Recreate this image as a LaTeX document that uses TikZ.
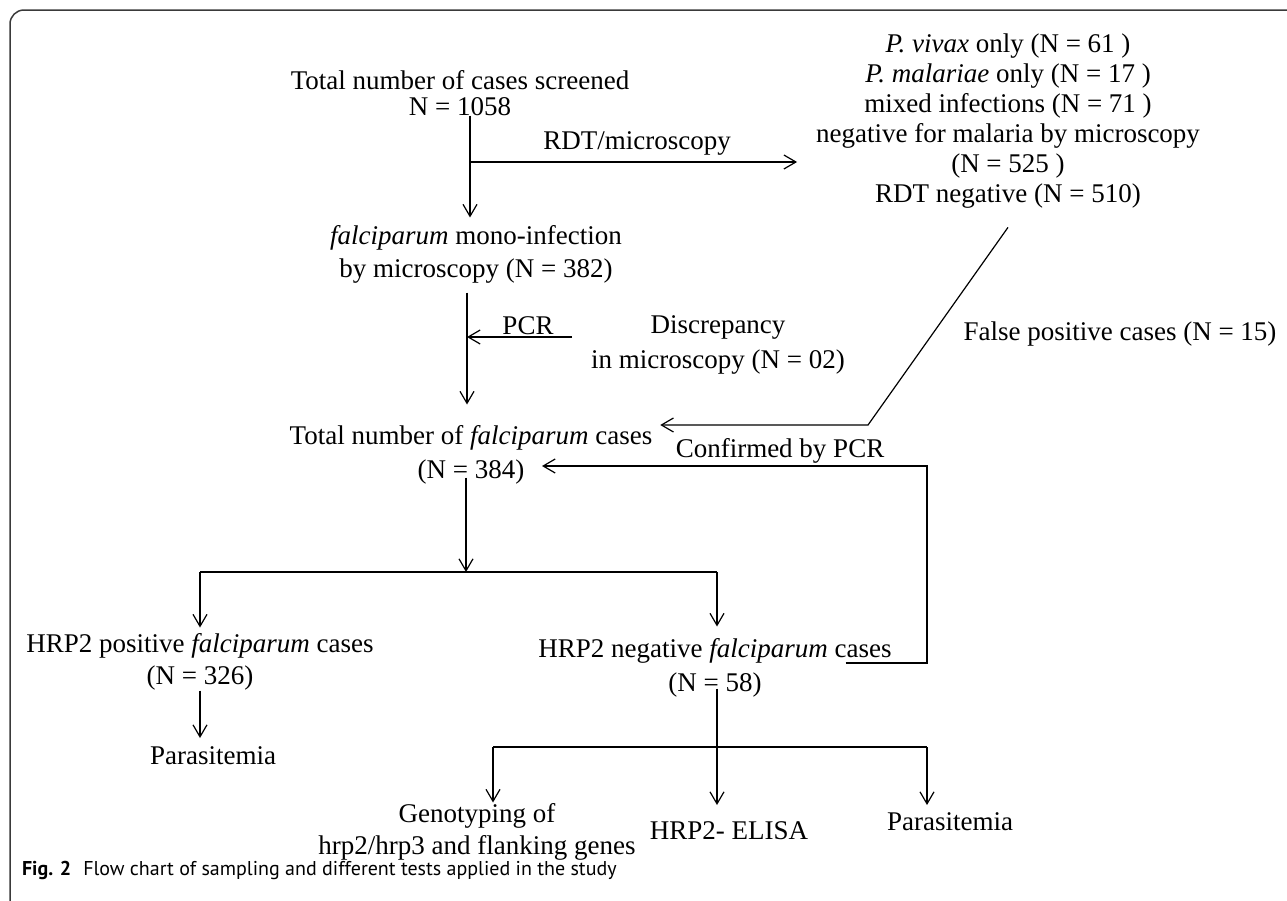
\documentclass[tikz,border=0pt]{standalone}
\usepackage{fontspec}
\setmainfont{Liberation Serif}
\newfontfamily\capfont{PT Sans}
\usetikzlibrary{arrows.meta}
\definecolor{framecol}{HTML}{3A3A3A}
\begin{document}
\begin{tikzpicture}[x=1pt,y=-1pt,
  every node/.style={inner sep=0pt,outer sep=0pt,align=center,
    font=\fontsize{27}{30}\selectfont},
  one/.style={text height=18pt,text depth=6pt},
  multi/.style={text depth=6pt},
  conn/.style={line width=1.2pt,black},
  arr/.style={conn,-{Straight Barb[length=12pt,width=14pt,line width=1.2pt]}}]
\useasboundingbox (0,0) rectangle (1287,900);
\draw[framecol,line width=1.5pt,rounded corners=14pt] (10,910) -- (10,10) -- (1300,10);

% nodes
\node[multi] (screened) at (460,96) {Total number of cases screened\\[-4pt]N = 1058};
\node[multi] (others) at (1008,121) {\textit{P. vivax} only (N = 61 )\\\textit{P. malariae} only (N = 17 )\\mixed infections (N = 71 )\\negative for malaria by microscopy\\(N = 525 )\\RDT negative (N = 510)};
\node[one] (rdt) at (637,143) {RDT/microscopy};
\node[multi] (mono) at (476,254.5) {\textit{falciparum} mono-infection\\[3pt]by microscopy (N = 382)};
\node[one] (pcr) at (528,328) {PCR};
\node[multi] (disc) at (718,345.5) {Discrepancy\\[5pt]in microscopy (N = 02)};
\node[one] (falsepos) at (1120,334) {False positive cases (N = 15)};
\node[multi] (total) at (471,455) {Total number of \textit{falciparum} cases\\[4pt](N = 384)};
\node[one] (confirmed) at (780,451) {Confirmed by PCR};
\node[multi] (pos) at (200,662) {HRP2 positive \textit{falciparum} cases\\[2pt](N = 326)};
\node[one] (para1) at (213,758) {Parasitemia};
\node[multi] (neg) at (715,668) {HRP2 negative \textit{falciparum} cases\\[4pt](N = 58)};
\node[multi] (geno) at (477,832) {Genotyping of\\[2pt]hrp2/hrp3 and flanking genes};
\node[one] (elisa) at (729,833) {HRP2- ELISA};
\node[one] (para2) at (950,824) {Parasitemia};
\node[anchor=west,font=\capfont\fontsize{20}{24}\selectfont] (caption) at (22,870)
  {\textbf{Fig. 2}\hspace{0.6em}Flow chart of sampling and different tests applied in the study};

% junction coordinates
\coordinate (j1) at (470,162);
\coordinate (j2) at (467,337);
\coordinate (k1) at (868,425);
\coordinate (k2) at (927,663);
\coordinate (k3) at (927,466);
\coordinate (b0) at (466,572);
\coordinate (bl) at (200,572);
\coordinate (br) at (717,572);
\coordinate (c0) at (717,747);
\coordinate (cl) at (493,747);
\coordinate (cr) at (927,747);

% connectors
\draw[arr] ([yshift=6pt]screened.south -| j1) -- ([yshift=8pt]mono.north -| j1);
\draw[arr] (j1) -- ([xshift=-19pt]others.west |- j1);
\draw[arr] ([yshift=-9pt]mono.south -| j2) -- ([yshift=21pt]total.north -| j2);
\draw[arr] ([xshift=-19pt]disc.west |- j2) -- (j2);
\draw[arr] ([yshift=-19pt]others.south) -- (k1) -- ([xshift=8pt]total.east |- k1);
\draw[arr] ([xshift=-46pt]neg.east |- k2) -- (k2) -- (k3) -- ([xshift=71pt]total.center |- k3);
\draw[arr] ([yshift=7pt]total.south -| b0) -- (b0);
\draw[conn] (bl) -- (br);
\draw[arr] (bl) -- ([yshift=6pt]pos.north -| bl);
\draw[arr] (br) -- ([yshift=12pt]neg.north -| br);
\draw[arr] (pos.south) -- ([yshift=8pt]para1.north -| pos.south);
\draw[arr] ([yshift=9pt]neg.south -| c0) -- ([yshift=16pt]elisa.north -| c0);
\draw[conn] (cl) -- (cr);
\draw[arr] (cl) -- ([yshift=1pt]geno.north -| cl);
\draw[arr] (cr) -- ([yshift=7pt]para2.north -| cr);
\end{tikzpicture}
\end{document}
